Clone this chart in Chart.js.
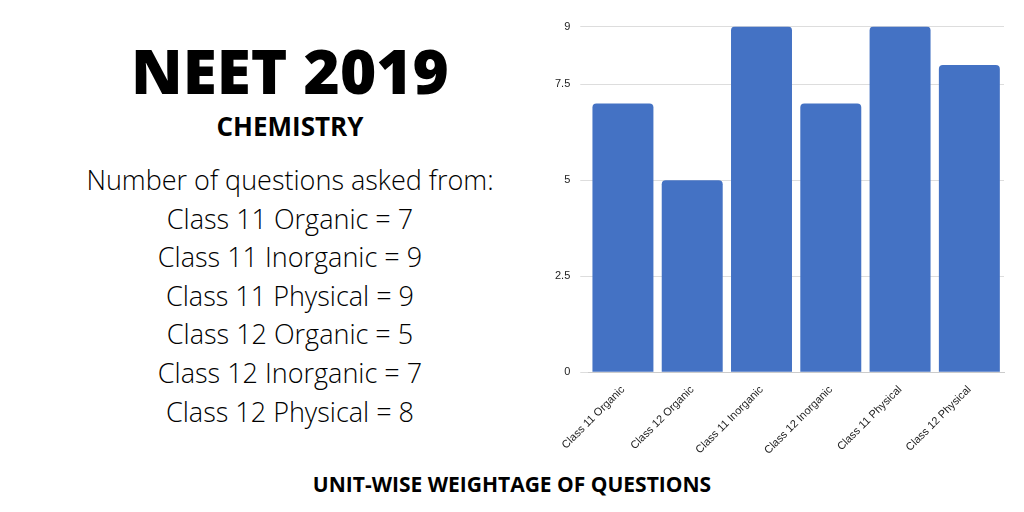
<!DOCTYPE html>
<html>
<head>
<meta charset="utf-8">
<script src="https://cdn.jsdelivr.net/npm/chart.js@4"></script>
<style>
  body { margin: 0; width: 1024px; height: 512px; background: #fff; position: relative; overflow: hidden; font-family: "Open Sans", sans-serif; }
  .t { position: absolute; left: 40px; width: 500px; text-align: center; color: #000; white-space: nowrap; }
  #title { top: 28px; font-size: 62px; font-weight: 800; }
  #sub { top: 108px; font-size: 26px; font-weight: 700; }
  .line { font-size: 27px; font-weight: 300; }
  #foot { position: absolute; left: 0; width: 1024px; top: 470px; text-align: center; font-size: 21px; font-weight: 700; }
  #wrap { position: absolute; left: 545px; top: 10px; width: 465px; height: 450px; }
</style>
</head>
<body>
<div class="t" id="title">NEET 2019</div>
<div class="t" id="sub">CHEMISTRY</div>
<div id="lines"></div>
<div id="foot">UNIT-WISE WEIGHTAGE OF QUESTIONS</div>
<div id="wrap"><canvas id="c"></canvas></div>
<script>
const categories = ["Class 11 Organic", "Class 12 Organic", "Class 11 Inorganic", "Class 12 Inorganic", "Class 11 Physical", "Class 12 Physical"];
const questions = [7, 5, 9, 7, 9, 8];
const summary = [
  "Number of questions asked from:",
  "Class 11 Organic = 7",
  "Class 11 Inorganic = 9",
  "Class 11 Physical = 9",
  "Class 12 Organic = 5",
  "Class 12 Inorganic = 7",
  "Class 12 Physical = 8"
];

const holder = document.getElementById("lines");
summary.forEach((s, i) => {
  const d = document.createElement("div");
  d.className = "t line";
  d.style.top = (161 + i * 38.6) + "px";
  d.textContent = s;
  holder.appendChild(d);
});

new Chart(document.getElementById("c"), {
  type: "bar",
  data: {
    labels: categories,
    datasets: [{
      data: questions,
      backgroundColor: "#4472c4",
      borderRadius: { topLeft: 4, topRight: 4 },
      borderSkipped: "bottom",
      barPercentage: 0.88,
      categoryPercentage: 1
    }]
  },
  options: {
    responsive: true,
    maintainAspectRatio: false,
    animation: false,
    layout: { padding: { top: 14, right: 6 } },
    plugins: { legend: { display: false }, tooltip: { enabled: false } },
    scales: {
      x: {
        grid: { display: false },
        border: { color: "#ccc" },
        ticks: { maxRotation: 45, minRotation: 45, color: "#222", font: { family: "Liberation Sans", size: 11 } }
      },
      y: {
        min: 0, max: 9,
        border: { display: false },
        grid: { color: "#ddd" },
        ticks: { stepSize: 2.5, color: "#222", padding: 10, font: { family: "Liberation Sans", size: 11 } }
      }
    }
  }
});
</script>
</body>
</html>
